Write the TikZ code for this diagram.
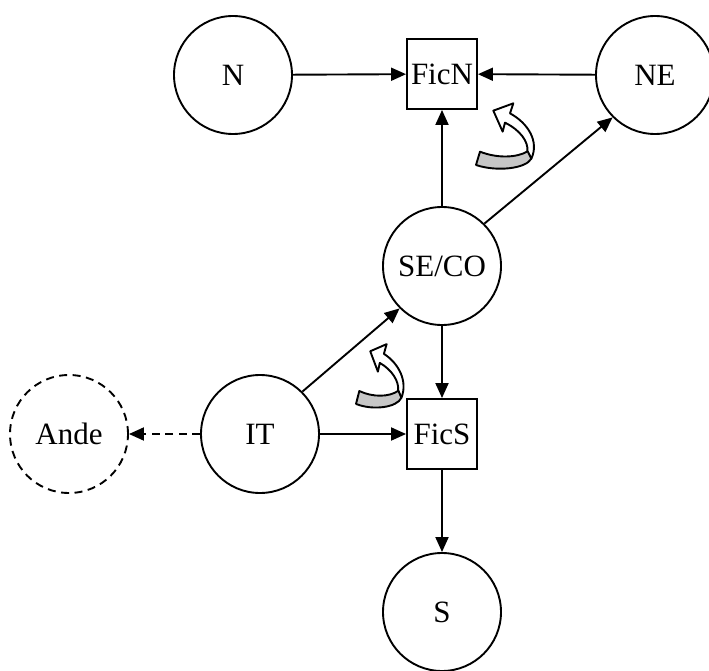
\documentclass[tikz,border=0pt]{standalone}
\usepackage{fontspec}
\setmainfont{Liberation Serif}
\usetikzlibrary{arrows.meta}
\tikzset{
  region/.style={circle, draw, line width=1.9pt, minimum size=118pt, inner sep=0pt, font=\fontsize{31}{36}\selectfont},
  fic/.style={rectangle, draw, line width=1.9pt, minimum size=70pt, inner sep=0pt, font=\fontsize{31}{36}\selectfont},
  flow/.style={line width=1.9pt, -{Triangle[length=15pt,width=13pt]}},
  loosedash/.style={dash pattern=on 8pt off 5.5pt},
  swirl/.style={line width=1.9pt, line join=round}
}
\newcommand{\swirlarrow}{%
  \draw[swirl, fill=white] (100,92) -- (160,70) -- (150,100)
    .. controls (205,130) and (238,185) .. (214,236)
    -- (202,214)
    .. controls (206,185) and (180,150) .. (135,128)
    -- (128,155) -- cycle;
  \draw[swirl, fill=black!22] (60,215) .. controls (110,235) and (170,234) .. (203,214)
    -- (214,236)
    .. controls (198,266) and (110,276) .. (48,255) -- cycle;
}
\begin{document}
\begin{tikzpicture}[x=1pt, y=-1pt]
  \useasboundingbox (0,0) rectangle (709,671);

  % regions and fictitious nodes
  \node[region] (n)    at (233,75)  {N};
  \node[fic]    (ficn) at (442,74)  {FicN};
  \node[region] (ne)   at (655,75)  {NE};
  \node[region] (seco) at (442,266) {SE/CO};
  \node[region] (it)   at (260,434) {IT};
  \node[region, loosedash] (ande) at (69,434) {Ande};
  \node[fic]    (fics) at (442,434) {FicS};
  \node[region] (s)    at (442,612) {S};

  % flows
  \draw[flow] (n) -- (ficn);
  \draw[flow] (ne) -- (ficn);
  \draw[flow] (seco) -- (ficn);
  \draw[flow] (seco.45) -- (ne.225);
  \draw[flow] (it.45) -- (seco.225);
  \draw[flow] (it) -- (fics);
  \draw[flow] (seco) -- (fics);
  \draw[flow] (fics) -- (s);
  \draw[flow, loosedash] (it) -- (ande);

  % curved ribbon arrows
  \begin{scope}[shift={(460,80)}, xscale=0.3333, yscale=0.3333]
    \swirlarrow
  \end{scope}
  \begin{scope}[shift={(342.9,321.5)}, xscale=0.2733, yscale=0.3233]
    \swirlarrow
  \end{scope}
\end{tikzpicture}
\end{document}
